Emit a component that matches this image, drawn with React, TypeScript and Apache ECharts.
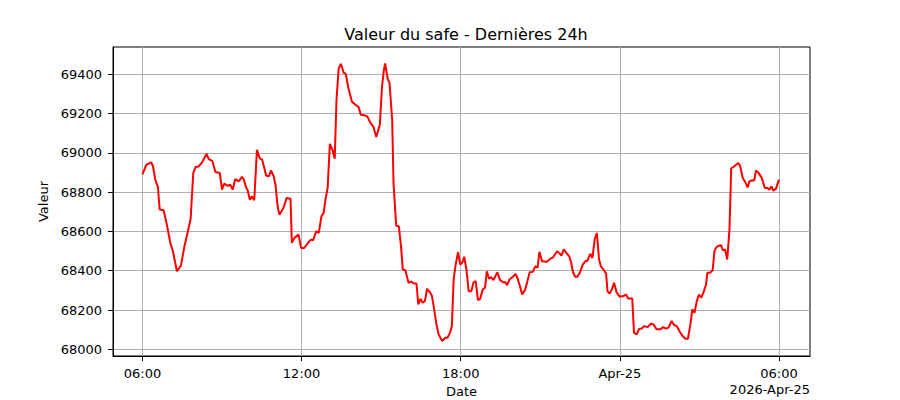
import { useEffect, useRef } from 'react';
import * as echarts from 'echarts';

// relevés du safe, heure locale (UTC ici), à partir du 24 avril 06:00
const START_DAY = Date.UTC(2026, 3, 24);

const TIMES = [
  '06:00', '06:09', '06:20', '06:24', '06:29', '06:35', '06:39', '06:48', '06:56', '07:03',
  '07:09', '07:18', '07:27', '07:35', '07:42', '07:49', '07:55', '08:00', '08:07', '08:15',
  '08:25', '08:30', '08:38', '08:45', '08:55', '09:00', '09:05', '09:12', '09:19', '09:24',
  '09:30', '09:38', '09:45', '09:49', '09:55', '09:58', '10:03', '10:08', '10:13', '10:19',
  '10:25', '10:31', '10:40', '10:46', '10:51', '10:57', '11:01', '11:06', '11:10', '11:19',
  '11:26', '11:35', '11:38', '11:44', '11:53', '11:59', '12:06', '12:16', '12:21', '12:26',
  '12:33', '12:39', '12:45', '12:50', '12:54', '12:59', '13:04', '13:10', '13:15', '13:19',
  '13:24', '13:29', '13:35', '13:40', '13:46', '13:54', '14:02', '14:09', '14:14', '14:24',
  '14:29', '14:36', '14:43', '14:49', '14:57', '15:02', '15:06', '15:09', '15:15', '15:19',
  '15:25', '15:28', '15:34', '15:40', '15:45', '15:49', '15:55', '16:02', '16:08', '16:14',
  '16:20', '16:24', '16:29', '16:34', '16:39', '16:44', '16:51', '16:55', '17:00', '17:05',
  '17:10', '17:18', '17:25', '17:30', '17:36', '17:40', '17:44', '17:48', '17:54', '17:59',
  '18:04', '18:08', '18:13', '18:18', '18:24', '18:29', '18:34', '18:39', '18:44', '18:50',
  '18:55', '18:59', '19:04', '19:09', '19:14', '19:23', '19:29', '19:36', '19:41', '19:45',
  '19:50', '19:58', '20:04', '20:09', '20:15', '20:19', '20:26', '20:30', '20:36', '20:43',
  '20:49', '20:54', '20:58', '21:04', '21:15', '21:22', '21:29', '21:38', '21:44', '21:48',
  '21:53', '21:59', '22:06', '22:10', '22:14', '22:19', '22:24', '22:30', '22:36', '22:42',
  '22:47', '22:53', '22:58', '23:03', '23:08', '23:13', '23:17', '23:23', '23:29', '23:32',
  '23:37', '23:42', '23:47', '23:53', '00:00', '00:08', '00:14', '00:19', '00:28', '00:32',
  '00:38', '00:44', '00:49', '00:55', '01:03', '01:10', '01:16', '01:23', '01:32', '01:38',
  '01:45', '01:50', '01:57', '02:03', '02:09', '02:16', '02:22', '02:28', '02:34', '02:39',
  '02:44', '02:49', '02:54', '02:59', '03:04', '03:09', '03:15', '03:18', '03:24', '03:30',
  '03:34', '03:39', '03:45', '03:49', '03:53', '03:58', '04:03', '04:08', '04:12', '04:17',
  '04:23', '04:28', '04:32', '04:38', '04:43', '04:49', '04:53', '04:58', '05:04', '05:08',
  '05:13', '05:21', '05:28', '05:34', '05:38', '05:43', '05:47', '05:53', '06:00',
];

const VALUES = [
  68890, 68939, 68951, 68930, 68863, 68826, 68711, 68707, 68626, 68542,
  68499, 68397, 68426, 68524, 68592, 68663, 68897, 68927, 68930, 68951,
  68995, 68968, 68959, 68902, 68897, 68812, 68843, 68832, 68837, 68812,
  68866, 68854, 68877, 68866, 68821, 68809, 68761, 68778, 68758, 69015,
  68973, 68964, 68883, 68880, 68910, 68880, 68837, 68724, 68685, 68719,
  68770, 68766, 68542, 68567, 68584, 68516, 68516, 68545, 68558, 68555,
  68600, 68592, 68677, 68694, 68761, 68821, 69045, 69015, 68970, 69269,
  69430, 69452, 69408, 69401, 69328, 69260, 69244, 69232, 69193, 69189,
  69184, 69151, 69130, 69080, 69142, 69337, 69418, 69455, 69374, 69354,
  69168, 68846, 68629, 68626, 68524, 68406, 68402, 68338, 68345, 68335,
  68335, 68228, 68257, 68237, 68245, 68308, 68288, 68271, 68203, 68127,
  68076, 68042, 68059, 68059, 68085, 68118, 68355, 68423, 68494, 68431,
  68443, 68471, 68406, 68296, 68296, 68341, 68347, 68250, 68257, 68305,
  68313, 68397, 68359, 68367, 68352, 68392, 68352, 68341, 68341, 68326,
  68355, 68369, 68384, 68359, 68313, 68279, 68305, 68338, 68392, 68394,
  68423, 68415, 68496, 68448, 68445, 68460, 68468, 68499, 68487, 68477,
  68508, 68491, 68471, 68440, 68392, 68369, 68369, 68392, 68431, 68448,
  68452, 68486, 68465, 68558, 68592, 68457, 68423, 68406, 68384, 68296,
  68284, 68305, 68338, 68288, 68267, 68271, 68279, 68259, 68259, 68085,
  68076, 68105, 68105, 68118, 68113, 68130, 68127, 68102, 68102, 68113,
  68105, 68110, 68144, 68123, 68118, 68088, 68068, 68054, 68054, 68118,
  68203, 68186, 68245, 68279, 68262, 68288, 68330, 68389, 68389, 68402,
  68499, 68521, 68528, 68529, 68504, 68508, 68457, 68609, 68922, 68927,
  68939, 68948, 68934, 68872, 68854, 68824, 68854, 68859, 68859, 68910,
  68900, 68872, 68821, 68821, 68812, 68829, 68807, 68816, 68863,
];

const HOUR = 3600 * 1000;
const X_TICK_HOURS = [6, 12, 18, 24, 30];
const Y_TICKS = [68000, 68200, 68400, 68600, 68800, 69000, 69200, 69400];

const FONT = 'DejaVu Sans';

function toTimestamps(times: string[]) {
  let day = 0;
  let prev = -1;
  return times.map((t) => {
    const [h, m] = t.split(':').map(Number);
    const mins = h * 60 + m;
    if (mins < prev) day++;
    prev = mins;
    return START_DAY + day * 24 * HOUR + mins * 60000;
  });
}

function fmtTick(v: number) {
  const d = new Date(v);
  const h = d.getUTCHours();
  const m = d.getUTCMinutes();
  if (h === 0 && m === 0) return 'Apr-25';
  return String(h).padStart(2, '0') + ':' + String(m).padStart(2, '0');
}

export default function App() {
  const ref = useRef<HTMLDivElement>(null);

  useEffect(() => {
    document.body.style.margin = '0';
    if (!ref.current) return;
    const chart = echarts.init(ref.current, null, { renderer: 'svg' });
    const ts = toTimestamps(TIMES);
    const data = ts.map((t, i) => [t, VALUES[i]]);
    const xTicks = X_TICK_HOURS.map((h) => START_DAY + h * HOUR);

    chart.setOption({
      animation: false,
      backgroundColor: '#fff',
      textStyle: { fontFamily: FONT },
      title: {
        text: 'Valeur du safe - Dernières 24h',
        left: 461,
        top: 21,
        textAlign: 'center',
        textStyle: { fontFamily: FONT, fontSize: 16, fontWeight: 'normal', color: '#000' },
      },
      grid: {
        left: 113,
        right: 90,
        top: 47,
        bottom: 44,
        outerBoundsMode: 'none',
        containLabel: false,
        show: true,
        borderColor: '#000',
        borderWidth: 1,
        backgroundColor: 'transparent',
      },
      xAxis: {
        type: 'value',
        min: START_DAY + 4.89 * HOUR,
        max: START_DAY + 31.17 * HOUR,
        name: 'Date',
        nameLocation: 'middle',
        nameGap: 28,
        nameTextStyle: { fontFamily: FONT, fontSize: 13, color: '#000' },
        axisLine: { show: true, lineStyle: { color: '#000', width: 1 } },
        axisTick: {
          show: true,
          length: 5,
          lineStyle: { color: '#000' },
          customValues: xTicks,
        },
        axisLabel: {
          color: '#000',
          fontSize: 13,
          fontFamily: FONT,
          margin: 11,
          customValues: xTicks,
          formatter: fmtTick,
        },
        splitLine: { show: true, lineStyle: { color: '#b0b0b0', width: 1 } },
      },
      yAxis: {
        type: 'value',
        min: 67966,
        max: 69538,
        name: 'Valeur',
        nameLocation: 'middle',
        nameGap: 55,
        nameTextStyle: { fontFamily: FONT, fontSize: 13, color: '#000' },
        axisLine: { show: true, lineStyle: { color: '#000', width: 1 } },
        axisTick: {
          show: true,
          length: 5,
          lineStyle: { color: '#000' },
          customValues: Y_TICKS,
        },
        axisLabel: {
          color: '#000',
          fontSize: 13,
          fontFamily: FONT,
          margin: 11,
          customValues: Y_TICKS,
          formatter: (v: number) => String(v),
        },
        splitLine: { show: true, lineStyle: { color: '#b0b0b0', width: 1 } },
      },
      graphic: [
        {
          type: 'text',
          right: 90,
          top: 383,
          style: { text: '2026-Apr-25', fill: '#000', font: `13px "${FONT}"` },
        },
      ],
      series: [
        {
          type: 'line',
          data,
          showSymbol: false,
          symbol: 'none',
          lineStyle: { color: '#ff0000', width: 2 },
          z: 3,
        },
      ],
    });

    return () => chart.dispose();
  }, []);

  return <div ref={ref} style={{ width: 900, height: 400 }} />;
}
